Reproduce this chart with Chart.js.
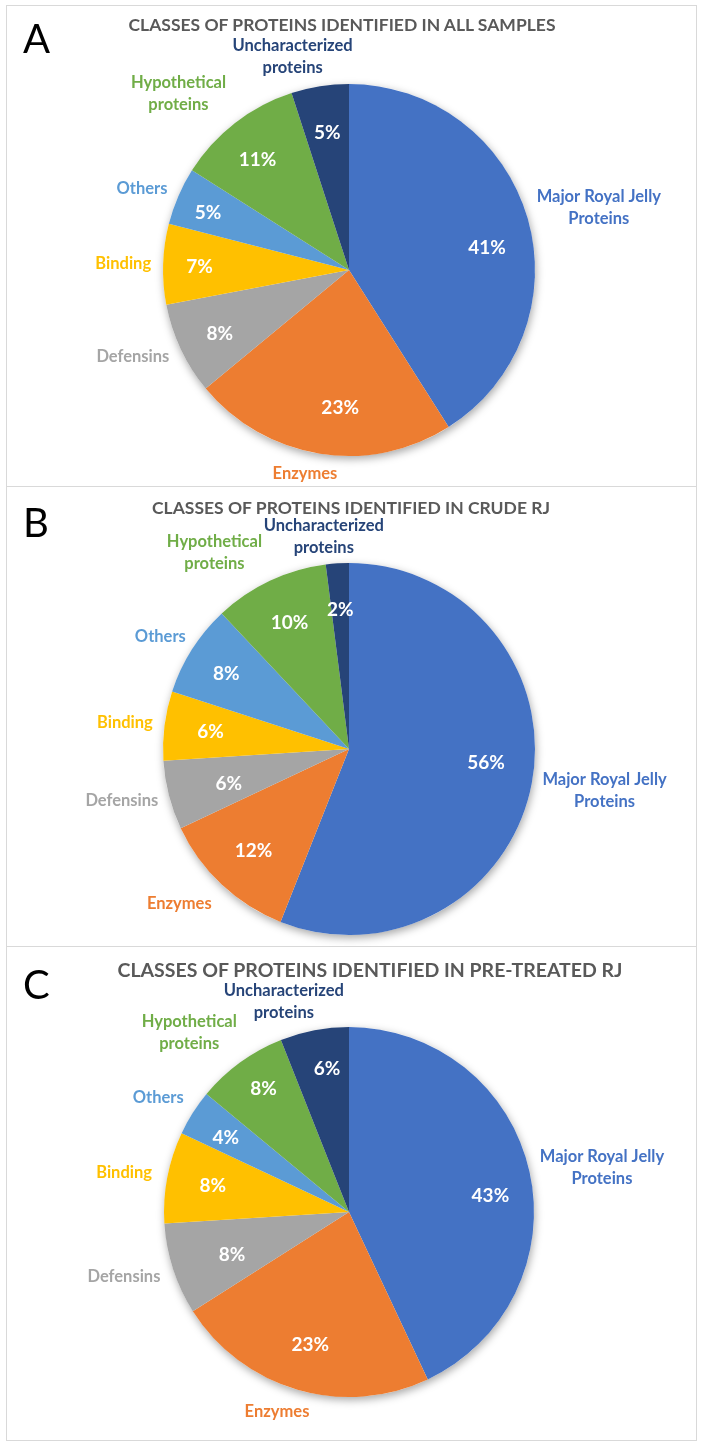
<!DOCTYPE html>
<html>
<head>
<meta charset="utf-8">
<script src="https://cdn.jsdelivr.net/npm/chart.js@4.4.1/dist/chart.umd.min.js"></script>
<style>
  body { margin: 0; background: #fff; font-family: Lato, 'Open Sans', sans-serif; }
  #page { position: relative; width: 702px; height: 1448px; overflow: hidden; }
  .frame { position: absolute; border: 1px solid #d9d9d9; box-sizing: border-box; }
  .chartbox { position: absolute; }
  .letter { position: absolute; font-size: 40px; line-height: 40px; color: #000; }
  .title { position: absolute; font-weight: bold; color: #595959; white-space: nowrap; line-height: 20px; transform: translateX(-50%); }
</style>
</head>
<body>
<div id="page">
  <div class="frame" style="left:6px;top:5px;width:691px;height:482px"></div>
  <div class="frame" style="left:6px;top:486px;width:691px;height:461px"></div>
  <div class="frame" style="left:6px;top:946px;width:691px;height:495px"></div>

  <div class="chartbox" style="left:6px;top:5px;width:691px;height:482px"><canvas id="chartA"></canvas></div>
  <div class="chartbox" style="left:6px;top:486px;width:691px;height:461px"><canvas id="chartB"></canvas></div>
  <div class="chartbox" style="left:6px;top:946px;width:691px;height:495px"><canvas id="chartC"></canvas></div>

  <div class="letter" style="left:23px;top:18px">A</div>
  <div class="letter" style="left:23px;top:502px">B</div>
  <div class="letter" style="left:23px;top:964px">C</div>

  <div class="title" id="titleA" style="left:342px;top:15px;font-size:17.5px"></div>
  <div class="title" id="titleB" style="left:351px;top:498px;font-size:17.5px"></div>
  <div class="title" id="titleC" style="left:370px;top:960px;font-size:19.5px"></div>
</div>
<script>
// Data
const categories = ['Major Royal Jelly Proteins', 'Enzymes', 'Defensins', 'Binding', 'Others', 'Hypothetical proteins', 'Uncharacterized proteins'];
const labelLines = [['Major Royal Jelly', 'Proteins'], ['Enzymes'], ['Defensins'], ['Binding'], ['Others'], ['Hypothetical', 'proteins'], ['Uncharacterized', 'proteins']];
const valuesAll = [41, 23, 8, 7, 5, 11, 5];
const valuesCrude = [56, 12, 6, 6, 8, 10, 2];
const valuesPretreated = [43, 23, 8, 8, 4, 8, 6];
const titles = [
    'CLASSES OF PROTEINS IDENTIFIED IN ALL SAMPLES',
    'CLASSES OF PROTEINS IDENTIFIED IN CRUDE RJ',
    'CLASSES OF PROTEINS IDENTIFIED IN PRE-TREATED RJ'
];

// Office palette
const sliceColors = ['#4472C4', '#ED7D31', '#A5A5A5', '#FFC000', '#5B9BD5', '#70AD47', '#264478'];

// Hand-tuned label nudges (px) so labels sit where Excel put them
const nudgeA = {
    name: [[0, -1], [-8, -3], [-4, -2], [0, 0], [-2, 2], [-20, -2], [-16, 4]],
    pct: [[4, 17], [13, 0], [-3, 4], [-10, 1], [-13, -2], [-6, 0], [0, 1]]
};
const nudgeB = {
    name: [[0, 0], [-12, 2], [0, 0], [0, 0], [0, 0], [-30, 3], [-9, 7]],
    pct: [[0, -12], [0, 0], [15, 0], [0, 0], [-5, 0], [0, 0], [0, 0]]
};
const nudgeC = {
    name: [[0, 3], [-8, 0], [-3, 0], [-4, 0], [-3, -3], [-16, -2], [-17, 5]],
    pct: [[6, 14], [0, 0], [15, 0], [0, 0], [-6, 0], [-4, -11], [4, -7]]
};

document.getElementById('titleA').textContent = titles[0];
document.getElementById('titleB').textContent = titles[1];
document.getElementById('titleC').textContent = titles[2];

// soft drop shadow under the whole pie
const pieShadow = {
    id: 'pieShadow',
    beforeDatasetsDraw(chart) {
        const arc = chart.getDatasetMeta(0).data[0];
        if (!arc) return;
        const ctx = chart.ctx;
        ctx.save();
        ctx.shadowColor = 'rgba(0, 0, 0, 0.35)';
        ctx.shadowBlur = 9;
        ctx.shadowOffsetX = 1;
        ctx.shadowOffsetY = 3;
        ctx.fillStyle = '#fff';
        ctx.beginPath();
        ctx.arc(arc.x, arc.y, arc.outerRadius, 0, Math.PI * 2);
        ctx.fill();
        ctx.restore();
    }
};

// percent labels inside, category labels outside (Excel style)
const sliceLabels = {
    id: 'sliceLabels',
    afterDatasetsDraw(chart, args, opts) {
        const ctx = chart.ctx;
        const values = chart.data.datasets[0].data;
        const nudge = opts.nudge;
        const lineH = 22;
        chart.getDatasetMeta(0).data.forEach((arc, i) => {
            const mid = (arc.startAngle + arc.endAngle) / 2;
            const ux = Math.cos(mid), uy = Math.sin(mid);
            const r = arc.outerRadius;
            const pn = nudge.pct[i], nn = nudge.name[i];

            ctx.save();
            ctx.textAlign = 'center';
            ctx.textBaseline = 'middle';
            ctx.fillStyle = '#fff';
            ctx.font = 'bold 19px Lato, sans-serif';
            ctx.fillText(values[i] + '%', arc.x + ux * r * 0.75 + pn[0], arc.y + uy * r * 0.75 + pn[1]);

            ctx.font = 'bold 16.5px Lato, sans-serif';
            ctx.fillStyle = sliceColors[i];
            const lines = labelLines[i];
            const w = Math.max(...lines.map(l => ctx.measureText(l).width));
            const h = lines.length * lineH;
            const ax = arc.x + ux * (r + 12), ay = arc.y + uy * (r + 12);
            const bx = ax + ux * w / 2 + nn[0], by = ay + uy * h / 2 + nn[1];
            lines.forEach((l, k) => {
                ctx.fillText(l, bx, by - h / 2 + lineH / 2 + k * lineH);
            });
            ctx.restore();
        });
    }
};

// padding that puts a pie of radius r at (cx, cy) inside a w x h box
function piePadding(cx, cy, r, w, h) {
    return { left: cx - r, top: cy - r, right: w - cx - r, bottom: h - cy - r };
}

function initPie(canvasId, values, padding, nudge) {
    const ctx = document.getElementById(canvasId);
    if (!ctx) return;

    return new Chart(ctx, {
        type: 'pie',
        data: {
            labels: categories,
            datasets: [{
                data: values,
                backgroundColor: sliceColors,
                borderWidth: 0
            }]
        },
        options: {
            responsive: true,
            maintainAspectRatio: false,
            animation: false,
            layout: { padding: padding },
            plugins: {
                legend: { display: false },
                tooltip: { enabled: false },
                sliceLabels: { nudge: nudge }
            }
        },
        plugins: [pieShadow, sliceLabels]
    });
}

initPie('chartA', valuesAll, piePadding(343, 265, 186, 691, 482), nudgeA);
initPie('chartB', valuesCrude, piePadding(343, 263, 186, 691, 461), nudgeB);
initPie('chartC', valuesPretreated, piePadding(343, 266, 185, 691, 495), nudgeC);
</script>
</body>
</html>
